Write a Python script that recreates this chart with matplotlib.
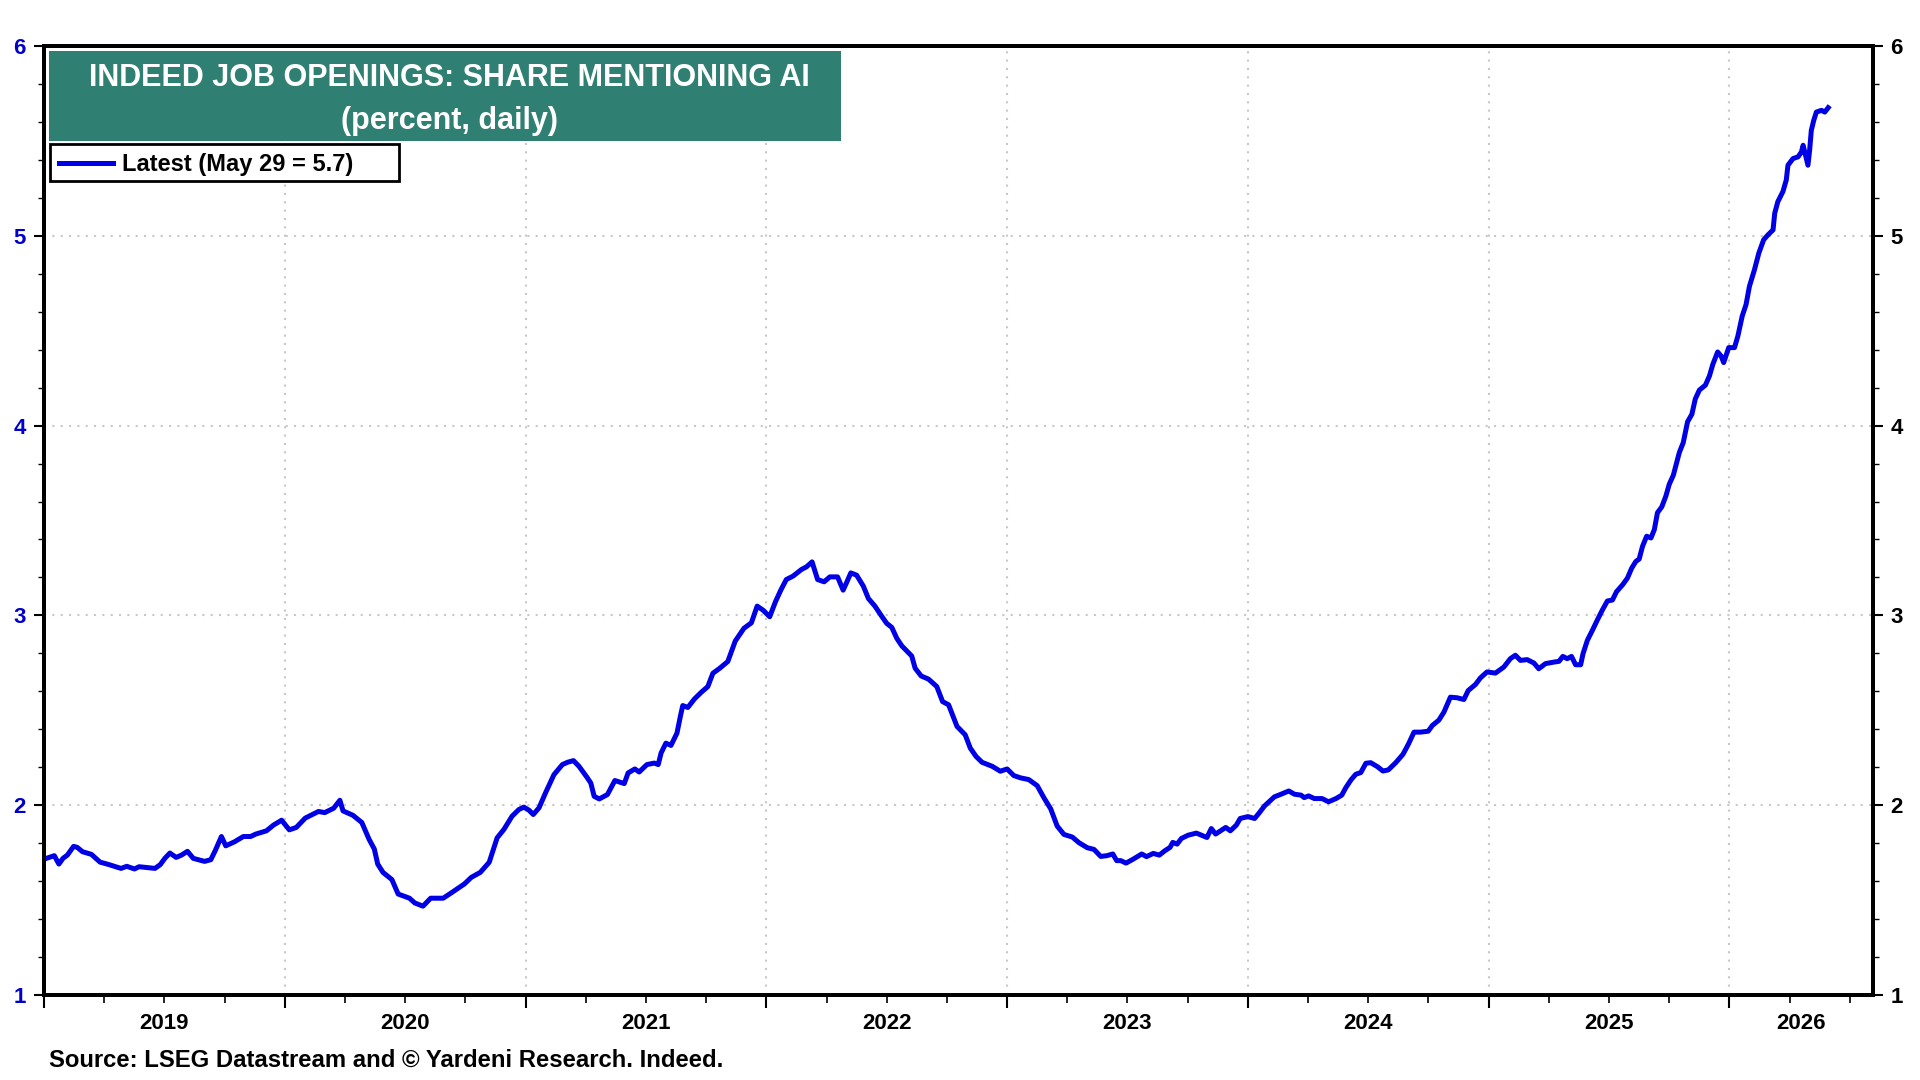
##Indeed job openings: share mentioning AI (Yardeni style chart)

import numpy as np
import matplotlib.pyplot as plt
from matplotlib.patches import Rectangle

##Data: decimal year and percent
dates = [2019.01, 2019.043, 2019.062, 2019.079, 2019.097, 2019.123, 2019.138, 2019.16, 2019.197, 2019.233,
         2019.27, 2019.32, 2019.344, 2019.376, 2019.395, 2019.461, 2019.483, 2019.502, 2019.523, 2019.549,
         2019.571, 2019.596, 2019.62, 2019.667, 2019.693, 2019.711, 2019.737, 2019.755, 2019.791, 2019.828,
         2019.858, 2019.88, 2019.924, 2019.953, 2019.987, 2020.019, 2020.048, 2020.085, 2020.14, 2020.166,
         2020.203, 2020.229, 2020.242, 2020.283, 2020.32, 2020.35, 2020.372, 2020.386, 2020.408, 2020.445,
         2020.471, 2020.518, 2020.54, 2020.574, 2020.606, 2020.658, 2020.695, 2020.746, 2020.775, 2020.812,
         2020.849, 2020.882, 2020.91, 2020.944, 2020.972, 2020.993, 2021.014, 2021.032, 2021.056, 2021.083,
         2021.118, 2021.153, 2021.174, 2021.199, 2021.222, 2021.254, 2021.271, 2021.285, 2021.306, 2021.34,
         2021.371, 2021.41, 2021.426, 2021.454, 2021.472, 2021.504, 2021.535, 2021.551, 2021.563, 2021.583,
         2021.604, 2021.629, 2021.643, 2021.653, 2021.674, 2021.701, 2021.729, 2021.757, 2021.778, 2021.806,
         2021.84, 2021.871, 2021.907, 2021.938, 2021.962, 2021.986, 2022.014, 2022.038, 2022.06, 2022.083,
         2022.111, 2022.146, 2022.167, 2022.19, 2022.213, 2022.24, 2022.264, 2022.296, 2022.319, 2022.333,
         2022.351, 2022.375, 2022.403, 2022.424, 2022.451, 2022.479, 2022.5, 2022.521, 2022.542, 2022.563,
         2022.604, 2022.618, 2022.643, 2022.674, 2022.708, 2022.732, 2022.757, 2022.792, 2022.826, 2022.847,
         2022.871, 2022.896, 2022.938, 2022.972, 2023.0, 2023.028, 2023.056, 2023.09, 2023.125, 2023.153,
         2023.181, 2023.208, 2023.236, 2023.271, 2023.299, 2023.333, 2023.361, 2023.389, 2023.414, 2023.439,
         2023.455, 2023.472, 2023.494, 2023.524, 2023.559, 2023.579, 2023.607, 2023.632, 2023.655, 2023.677,
         2023.688, 2023.706, 2023.724, 2023.752, 2023.786, 2023.83, 2023.848, 2023.866, 2023.908, 2023.927,
         2023.952, 2023.968, 2024.0, 2024.028, 2024.048, 2024.069, 2024.11, 2024.138, 2024.17, 2024.193,
         2024.221, 2024.234, 2024.252, 2024.276, 2024.308, 2024.335, 2024.366, 2024.39, 2024.407, 2024.428,
         2024.448, 2024.469, 2024.49, 2024.51, 2024.538, 2024.561, 2024.583, 2024.614, 2024.644, 2024.666,
         2024.69, 2024.717, 2024.749, 2024.766, 2024.793, 2024.814, 2024.841, 2024.869, 2024.897, 2024.915,
         2024.945, 2024.966, 2024.993, 2025.028, 2025.063, 2025.09, 2025.111, 2025.132, 2025.16, 2025.188,
         2025.208, 2025.236, 2025.271, 2025.292, 2025.308, 2025.326, 2025.344, 2025.361, 2025.382, 2025.392,
         2025.41, 2025.431, 2025.451, 2025.472, 2025.493, 2025.514, 2025.531, 2025.556, 2025.576, 2025.594,
         2025.611, 2025.625, 2025.639, 2025.656, 2025.674, 2025.688, 2025.701, 2025.719, 2025.736, 2025.75,
         2025.767, 2025.781, 2025.792, 2025.808, 2025.826, 2025.844, 2025.858, 2025.875, 2025.9, 2025.917,
         2025.931, 2025.951, 2025.965, 2025.976, 2025.997, 2026.021, 2026.035, 2026.053, 2026.069, 2026.083,
         2026.104, 2026.122, 2026.142, 2026.16, 2026.181, 2026.188, 2026.201, 2026.222, 2026.236, 2026.243,
         2026.264, 2026.285, 2026.299, 2026.306, 2026.314, 2026.326, 2026.333, 2026.34, 2026.35, 2026.361,
         2026.382, 2026.396, 2026.41]

share_ai = [1.72, 1.734, 1.69, 1.72, 1.737, 1.783, 1.778, 1.755, 1.741, 1.70,
            1.687, 1.667, 1.678, 1.664, 1.676, 1.667, 1.687, 1.72, 1.748, 1.725,
            1.737, 1.757, 1.72, 1.704, 1.713, 1.76, 1.835, 1.786, 1.807, 1.835,
            1.835, 1.848, 1.865, 1.895, 1.921, 1.87, 1.883, 1.932, 1.967, 1.961,
            1.984, 2.026, 1.97, 1.947, 1.909, 1.821, 1.769, 1.69, 1.646, 1.608,
            1.532, 1.51, 1.485, 1.468, 1.51, 1.51, 1.541, 1.585, 1.62, 1.646,
            1.699, 1.828, 1.872, 1.942, 1.977, 1.99, 1.974, 1.951, 1.986, 2.065,
            2.161, 2.214, 2.226, 2.235, 2.205, 2.149, 2.117, 2.047, 2.033, 2.056,
            2.13, 2.114, 2.17, 2.191, 2.175, 2.214, 2.222, 2.214, 2.275, 2.327,
            2.315, 2.38, 2.468, 2.525, 2.515, 2.559, 2.594, 2.625, 2.695, 2.721,
            2.757, 2.865, 2.932, 2.961, 3.049, 3.028, 2.993, 3.072, 3.133, 3.189,
            3.207, 3.242, 3.256, 3.282, 3.189, 3.177, 3.203, 3.203, 3.133, 3.172,
            3.224, 3.212, 3.154, 3.089, 3.049, 2.996, 2.958, 2.937, 2.879, 2.839,
            2.786, 2.722, 2.681, 2.664, 2.625, 2.546, 2.529, 2.415, 2.371, 2.301,
            2.257, 2.226, 2.205, 2.179, 2.191, 2.156, 2.144, 2.135, 2.103, 2.039,
            1.981, 1.89, 1.846, 1.832, 1.802, 1.776, 1.767, 1.73, 1.734, 1.743,
            1.708, 1.708, 1.695, 1.716, 1.743, 1.729, 1.746, 1.737, 1.76, 1.778,
            1.804, 1.795, 1.825, 1.842, 1.853, 1.83, 1.877, 1.848, 1.883, 1.865,
            1.895, 1.93, 1.94, 1.93, 1.961, 1.996, 2.044, 2.058, 2.075, 2.058,
            2.053, 2.04, 2.049, 2.035, 2.035, 2.018, 2.035, 2.053, 2.093, 2.133,
            2.163, 2.172, 2.221, 2.224, 2.203, 2.18, 2.186, 2.224, 2.268, 2.32,
            2.385, 2.385, 2.39, 2.42, 2.448, 2.49, 2.569, 2.566, 2.557, 2.604,
            2.636, 2.671, 2.702, 2.696, 2.728, 2.772, 2.79, 2.763, 2.767, 2.749,
            2.719, 2.746, 2.754, 2.758, 2.784, 2.772, 2.784, 2.74, 2.74, 2.799,
            2.869, 2.922, 2.975, 3.028, 3.076, 3.081, 3.125, 3.161, 3.196, 3.249,
            3.284, 3.297, 3.364, 3.417, 3.408, 3.452, 3.541, 3.572, 3.629, 3.691,
            3.739, 3.806, 3.859, 3.91, 4.02, 4.06, 4.14, 4.187, 4.213, 4.262,
            4.323, 4.388, 4.367, 4.332, 4.411, 4.411, 4.472, 4.577, 4.638, 4.734,
            4.822, 4.909, 4.979, 5.005, 5.031, 5.119, 5.18, 5.233, 5.294, 5.372,
            5.407, 5.416, 5.442, 5.477, 5.434, 5.372, 5.451, 5.556, 5.608, 5.652,
            5.661, 5.652, 5.675]

years = [2019, 2020, 2021, 2022, 2023, 2024, 2025, 2026]
y_ticks = [1, 2, 3, 4, 5, 6]

title_text = 'INDEED JOB OPENINGS: SHARE MENTIONING AI'
subtitle_text = '(percent, daily)'
legend_text = 'Latest (May 29 = 5.7)'
source_text = 'Source: LSEG Datastream and \u00a9 Yardeni Research. Indeed.'

##Style
plt.rcParams['font.family'] = ['Liberation Sans', 'DejaVu Sans']
plt.rcParams['font.weight'] = 'bold'

line_blue = '#0000E6'
teal = '#2F7F72'
grid_grey = '#C8C8C8'

fig = plt.figure(figsize=(19.2, 10.8), dpi=100)
ax = fig.add_axes([0.0229, 0.0787, 0.9526, 0.8787])

ax.plot(dates, share_ai, color=line_blue, linewidth=3.6, solid_joinstyle='round', zorder=3)

x_min = years[0]
x_max = years[-1] + 0.596
ax.set_xlim(x_min, x_max)
ax.set_ylim(y_ticks[0], y_ticks[-1])

##x axis: long ticks at year boundaries, short at quarters, labels centred on visible part of year
boundaries = np.arange(years[0], years[-1] + 1)
quarters = [b + q for b in boundaries for q in (0.25, 0.5, 0.75) if b + q < x_max]
ax.set_xticks(boundaries)
ax.set_xticks(quarters, minor=True)
ax.tick_params(axis='x', which='major', length=9, width=1.5, labelbottom=False, direction='out')
ax.tick_params(axis='x', which='minor', length=6, width=1.2, direction='out')
for yr in years:
    mid = (yr + min(yr + 1, x_max)) / 2
    ax.text(mid, -0.030, str(yr), transform=ax.get_xaxis_transform(),
            ha='center', va='center', fontsize=16, fontweight='bold', color='black')

##y axis: blue labels on left, black labels on right
ax.set_yticks(y_ticks)
ax.set_yticks(np.arange(1, 6.01, 0.2), minor=True)
ax.tick_params(axis='y', which='major', length=7, width=1.5, labelsize=16, labelcolor='#0000CC', pad=6)
ax.tick_params(axis='y', which='minor', length=4, width=1.0)

ax2 = ax.twinx()
ax2.set_ylim(ax.get_ylim())
ax2.set_yticks(y_ticks)
ax2.set_yticks(np.arange(1, 6.01, 0.2), minor=True)
ax2.tick_params(axis='y', which='major', length=7, width=1.5, labelsize=16, labelcolor='black', pad=5.5)
ax2.tick_params(axis='y', which='minor', length=4, width=1.0)

for a in (ax, ax2):
    for s in a.spines.values():
        s.set_linewidth(2.8)
        s.set_color('black')

##Dotted grid
for b in boundaries[1:]:
    ax.axvline(b, color=grid_grey, linestyle=(0, (1, 3)), linewidth=1.5, zorder=1)
for yv in y_ticks[1:-1]:
    ax.axhline(yv, color=grid_grey, linestyle=(0, (1, 3)), linewidth=1.5, zorder=1)

##Title box
ax.add_patch(Rectangle((0.0027, 0.8999), 0.433, 0.0948, transform=ax.transAxes,
                       facecolor=teal, edgecolor='none', zorder=4))
ax.text(0.2219, 0.9664, title_text, transform=ax.transAxes, ha='center', va='center',
        color='white', fontsize=22, fontweight='bold', zorder=5)
ax.text(0.2219, 0.9207, subtitle_text, transform=ax.transAxes, ha='center', va='center',
        color='white', fontsize=22, fontweight='bold', zorder=5)

##Legend box
ax.add_patch(Rectangle((0.0033, 0.8577), 0.1908, 0.039, transform=ax.transAxes,
                       facecolor='white', edgecolor='black', linewidth=2, zorder=4))
ax.plot([0.0082, 0.0377], [0.8765, 0.8765], transform=ax.transAxes, color=line_blue,
        linewidth=3.6, zorder=5)
ax.text(0.0426, 0.8755, legend_text, transform=ax.transAxes, ha='left', va='center',
        color='black', fontsize=17, fontweight='bold', zorder=5)

##Source
fig.text(0.0255, 0.0184, source_text, ha='left', va='center', fontsize=17.2,
         fontweight='bold', color='black')

fig.savefig('out.png', dpi=100)
